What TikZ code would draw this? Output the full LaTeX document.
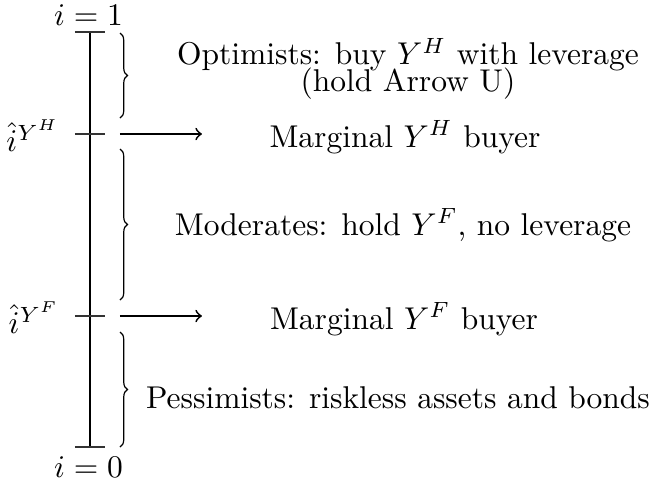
\documentclass[tikz,border=0pt]{standalone}
\usetikzlibrary{decorations.pathreplacing}
\begin{document}
\begin{tikzpicture}[x={(0.3333pt,0)},y={(0,-0.3333pt)},
  tick/.style={line width=0.4pt,black!80},
  axis/.style={line width=0.6pt},
  arr/.style={line width=0.6pt,->},
  br/.style={decorate,decoration={brace,amplitude=2.5pt},line width=0.4pt},
  lbl/.style={inner sep=0pt,scale=1.05,transform shape}]
\useasboundingbox (0,0) rectangle (651,485);
\coordinate (top) at (90,33);
\coordinate (bot) at (90,446);
\draw[axis] (top) -- (bot);
\coordinate (t1a) at (75,32); \coordinate (t1b) at (105,32);
\coordinate (t2a) at (75,134); \coordinate (t2b) at (105,134);
\coordinate (t3a) at (75,316); \coordinate (t3b) at (105,316);
\coordinate (t4a) at (75,447); \coordinate (t4b) at (105,447);
\draw[tick] (t1a) -- (t1b);
\draw[tick] (t2a) -- (t2b);
\draw[tick] (t3a) -- (t3b);
\draw[tick] (t4a) -- (t4b);
\node[lbl] (one) at (88.5,15) {$i=1$};
\node[lbl] (zero) at (88.5,467) {$i=0$};
\node[lbl,anchor=east] (ih) at (60,136) {$\hat{i}^{Y^H}$};
\node[lbl,anchor=east] (if) at (60,318) {$\hat{i}^{Y^F}$};
\coordinate (a1s) at (120,134); \coordinate (a1e) at (202,134);
\coordinate (a2s) at (120,316); \coordinate (a2e) at (202,316);
\draw[arr] (a1s) -- (a1e);
\draw[arr] (a2s) -- (a2e);
\coordinate (b1s) at (120,33); \coordinate (b1e) at (120,118);
\coordinate (b2s) at (120,149); \coordinate (b2e) at (120,300);
\coordinate (b3s) at (120,332); \coordinate (b3e) at (120,447);
\draw[br] (b1s) -- (b1e);
\draw[br] (b2s) -- (b2e);
\draw[br] (b3s) -- (b3e);
\node[lbl,align=center] (opt) at (408,69) {Optimists: buy $Y^H$ with leverage\\[-3.5pt](hold Arrow U)};
\node[lbl] (mh) at (405,137) {Marginal $Y^H$ buyer};
\node[lbl] (mod) at (403,225) {Moderates: hold $Y^F$, no leverage};
\node[lbl] (mf) at (404,319) {Marginal $Y^F$ buyer};
\node[lbl] (pes) at (398,398) {Pessimists: riskless assets and bonds};
\end{tikzpicture}
\end{document}
